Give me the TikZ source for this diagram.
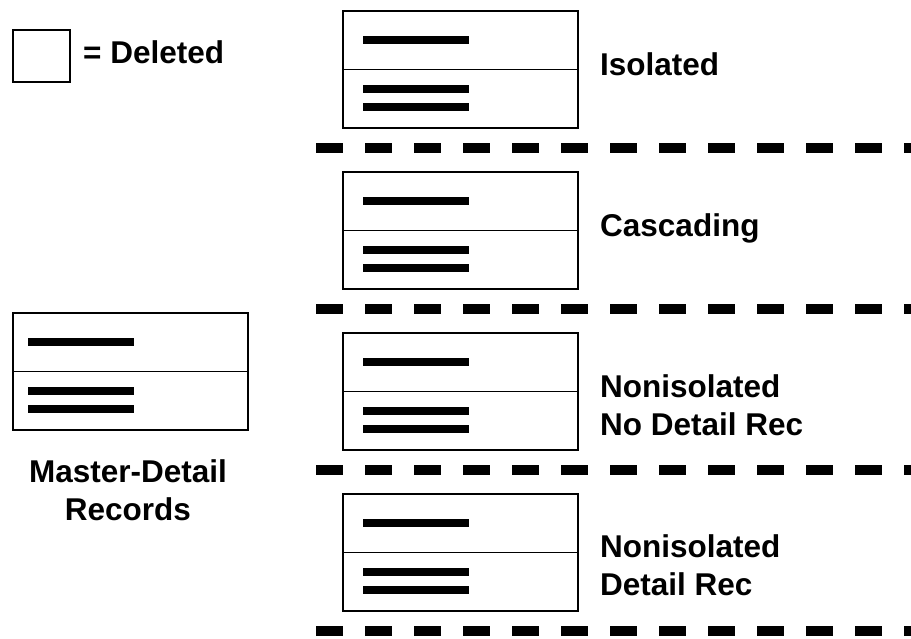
\documentclass[tikz,border=0pt]{standalone}
\usepackage{fontspec}
\setmainfont{Liberation Sans}
\begin{document}
\begin{tikzpicture}[x=1pt,y=-1pt,
  frame/.style={draw, line width=1.7pt},
  bar/.style={line width=8.5pt},
  sep/.style={line width=10pt, dash pattern=on 27pt off 22pt},
  lbl/.style={font=\fontsize{31.5}{38}\selectfont\bfseries, inner sep=0pt,
    anchor=base west, align=left},
  % a master record over its detail records; #1 = left indent of the bars
  pics/record/.style={code={
    \node[frame, minimum width=235pt, minimum height=117pt, inner sep=0pt,
      anchor=north west] (-box) at (0,0) {};
    \draw[line width=1.4pt] (-box.west) -- (-box.east);
    \draw[bar] (#1,30) -- ++(106,0);
    \draw[bar] (#1,79) -- ++(106,0);
    \draw[bar] (#1,97) -- ++(106,0);
  }}]
  \useasboundingbox (0,0) rectangle (911,638);

  % legend
  \node[frame, minimum width=57pt, minimum height=52pt, inner sep=0pt,
    anchor=north west] (legend) at (12,29) {};
  \node[lbl] (deleted) at (83,63) {= Deleted};

  % master-detail records (multi-line labels sit on their last baseline)
  \pic (md) at (12,312) {record=16};
  \node[lbl, align=center, anchor=base] (mdtext) at (128,520)
    {Master-Detail\\Records};

  % the four deletion cases
  \pic (iso) at (342,10)  {record=21};
  \pic (cas) at (342,171) {record=21};
  \pic (nnd) at (342,332) {record=21};
  \pic (ndr) at (342,493) {record=21};

  \node[lbl] (isotext) at (600,75)  {Isolated};
  \node[lbl] (castext) at (600,236) {Cascading};
  \node[lbl] (nndtext) at (600,435) {Nonisolated\\No Detail Rec};
  \node[lbl] (ndrtext) at (600,595) {Nonisolated\\Detail Rec};

  % separators between the cases
  \foreach \y/\n in {148/a,309/b,470/c,631/d} {
    \coordinate (s\n l) at (316,\y);
    \coordinate (s\n r) at (911,\y);
    \draw[sep] (s\n l) -- (s\n r);
  }
\end{tikzpicture}
\end{document}
